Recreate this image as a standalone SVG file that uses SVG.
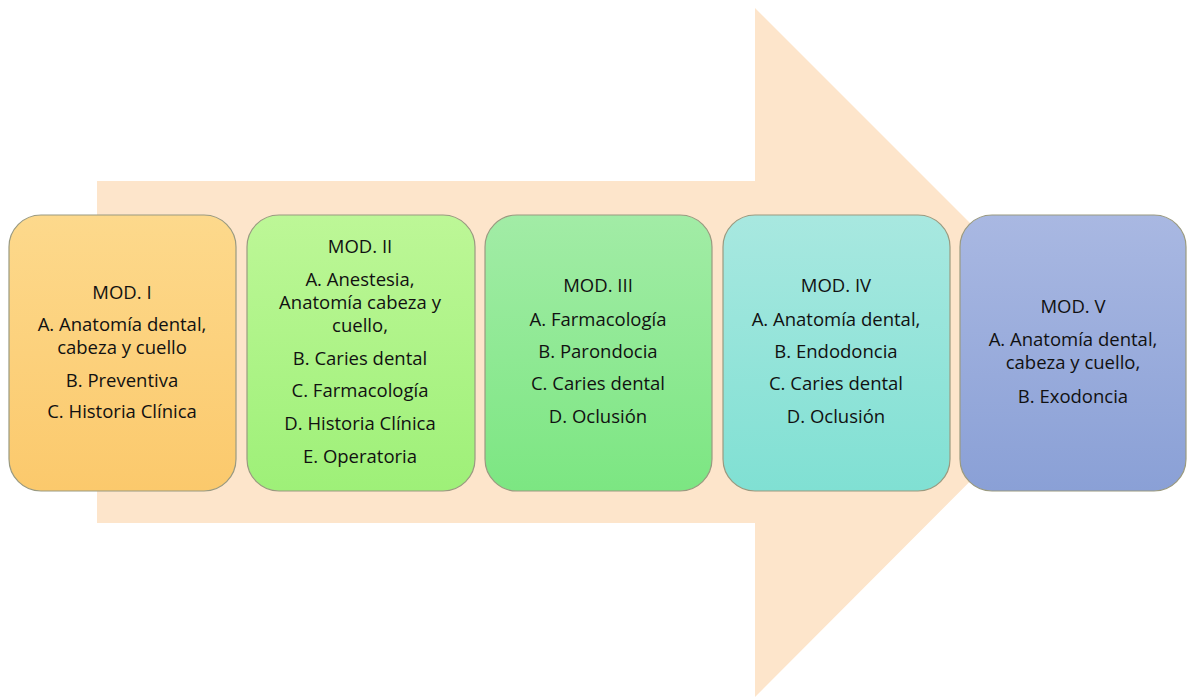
<svg xmlns="http://www.w3.org/2000/svg" width="1187" height="697" viewBox="0 0 1187 697">
<defs>
<linearGradient id="g1" x1="0" y1="0" x2="0" y2="1"><stop offset="0" stop-color="#fdd98c"/><stop offset="1" stop-color="#fbc96c"/></linearGradient>
<linearGradient id="g2" x1="0" y1="0" x2="0" y2="1"><stop offset="0" stop-color="#bdf797"/><stop offset="1" stop-color="#9ef078"/></linearGradient>
<linearGradient id="g3" x1="0" y1="0" x2="0" y2="1"><stop offset="0" stop-color="#a2eca6"/><stop offset="1" stop-color="#7ce682"/></linearGradient>
<linearGradient id="g4" x1="0" y1="0" x2="0" y2="1"><stop offset="0" stop-color="#a8e8e0"/><stop offset="1" stop-color="#80e0d3"/></linearGradient>
<linearGradient id="g5" x1="0" y1="0" x2="0" y2="1"><stop offset="0" stop-color="#a9b8e2"/><stop offset="1" stop-color="#8aa0d6"/></linearGradient>
</defs>
<style>
.box{stroke:#9a9a80;stroke-width:1.2}
text{font-family:"Open Sans","Liberation Sans",sans-serif;font-size:18.5px;fill:#111;text-anchor:middle}
</style>
<rect width="1187" height="697" fill="#fff"/>
<g id="arrow">
<polygon points="97,181 755,181 755,8 1099,352 755,697 755,523 97,523" fill="#fde5cb"/>
</g>
<g id="mod1">
<rect class="box" x="9" y="215" width="227" height="276" rx="32" fill="url(#g1)"/>
<text x="122" y="299">MOD. I</text>
<text x="122" y="331">A. Anatomía dental,</text>
<text x="122" y="354">cabeza y cuello</text>
<text x="122" y="387">B. Preventiva</text>
<text x="122" y="418">C. Historia Clínica</text>
</g>
<g id="mod2">
<rect class="box" x="247" y="215" width="228" height="276" rx="32" fill="url(#g2)"/>
<text x="360" y="253">MOD. II</text>
<text x="360" y="286">A. Anestesia,</text>
<text x="360" y="309">Anatomía cabeza y</text>
<text x="360" y="332">cuello,</text>
<text x="360" y="365">B. Caries dental</text>
<text x="360" y="397">C. Farmacología</text>
<text x="360" y="430">D. Historia Clínica</text>
<text x="360" y="463">E. Operatoria</text>
</g>
<g id="mod3">
<rect class="box" x="485" y="215" width="227" height="276" rx="32" fill="url(#g3)"/>
<text x="598" y="292">MOD. III</text>
<text x="598" y="326">A. Farmacología</text>
<text x="598" y="358">B. Parondocia</text>
<text x="598" y="390">C. Caries dental</text>
<text x="598" y="423">D. Oclusión</text>
</g>
<g id="mod4">
<rect class="box" x="723" y="215" width="227" height="276" rx="32" fill="url(#g4)"/>
<text x="836" y="292">MOD. IV</text>
<text x="836" y="326">A. Anatomía dental,</text>
<text x="836" y="358">B. Endodoncia</text>
<text x="836" y="390">C. Caries dental</text>
<text x="836" y="423">D. Oclusión</text>
</g>
<g id="mod5">
<rect class="box" x="960" y="215" width="226" height="276" rx="32" fill="url(#g5)"/>
<text x="1073" y="313">MOD. V</text>
<text x="1073" y="346">A. Anatomía dental,</text>
<text x="1073" y="369">cabeza y cuello,</text>
<text x="1073" y="403">B. Exodoncia</text>
</g>
<g id="connectors"></g>
</svg>
